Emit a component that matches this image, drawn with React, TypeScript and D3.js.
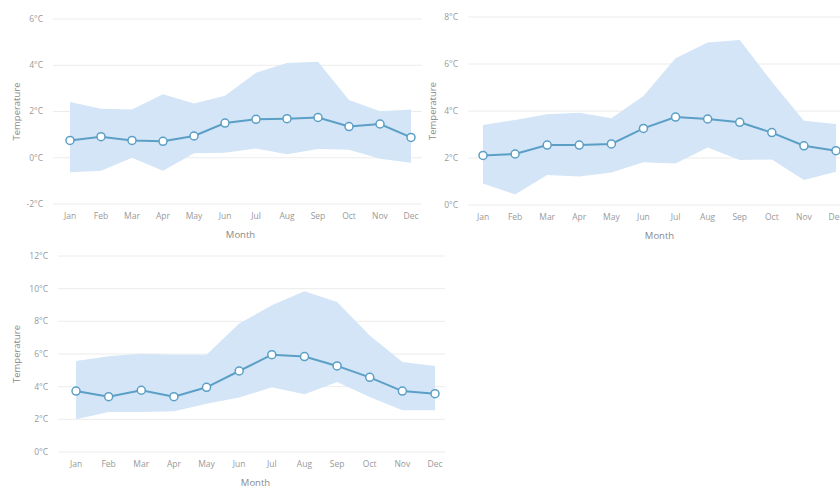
import { useEffect, useRef } from 'react';
import * as d3 from 'd3';

const months = ['Jan', 'Feb', 'Mar', 'Apr', 'May', 'Jun', 'Jul', 'Aug', 'Sep', 'Oct', 'Nov', 'Dec'];

// panel 1 (top left)
const mean1 = [0.75, 0.91, 0.75, 0.71, 0.94, 1.5, 1.66, 1.69, 1.74, 1.35, 1.46, 0.88];
const high1 = [2.41, 2.12, 2.09, 2.75, 2.35, 2.68, 3.68, 4.1, 4.15, 2.5, 2.01, 2.09];
const low1 = [-0.63, -0.56, 0.0, -0.56, 0.2, 0.22, 0.4, 0.15, 0.38, 0.35, -0.04, -0.22];
const ticks1 = [-2, 0, 2, 4, 6];

// panel 2 (top right)
const mean2 = [2.11, 2.17, 2.55, 2.55, 2.6, 3.26, 3.74, 3.66, 3.52, 3.08, 2.52, 2.31];
const high2 = [3.4, 3.62, 3.86, 3.93, 3.69, 4.64, 6.24, 6.92, 7.02, 5.25, 3.59, 3.45];
const low2 = [0.92, 0.45, 1.28, 1.21, 1.38, 1.82, 1.77, 2.45, 1.91, 1.94, 1.06, 1.42];
const ticks2 = [0, 2, 4, 6, 8];

// panel 3 (bottom)
const mean3 = [3.73, 3.39, 3.78, 3.39, 3.96, 4.96, 5.96, 5.84, 5.27, 4.57, 3.73, 3.57];
const high3 = [5.57, 5.86, 6.02, 5.96, 5.96, 7.86, 8.98, 9.84, 9.18, 7.14, 5.51, 5.27];
const low3 = [2.0, 2.45, 2.45, 2.49, 2.96, 3.33, 3.96, 3.53, 4.29, 3.37, 2.55, 2.55];
const ticks3 = [0, 2, 4, 6, 8, 10, 12];

const FONT = '"Open Sans", sans-serif';
const LINE = '#5b9fc6';
const BAND = '#d3e5f6';

type Panel = {
  mean: number[]; high: number[]; low: number[]; ticks: number[];
  gridX: [number, number]; pointX: [number, number]; y: [number, number];
  titleX: number;
};

const panels: Panel[] = [
  { mean: mean1, high: high1, low: low1, ticks: ticks1, gridX: [53, 422], pointX: [70, 411], y: [204, 19], titleX: 17 },
  { mean: mean2, high: high2, low: low2, ticks: ticks2, gridX: [468, 840], pointX: [483, 836], y: [205, 17], titleX: 433 },
  { mean: mean3, high: high3, low: low3, ticks: ticks3, gridX: [58, 445], pointX: [76, 435], y: [452, 256], titleX: 17 },
];

export default function App() {
  const svgRef = useRef<SVGSVGElement>(null);

  useEffect(() => {
    if (!svgRef.current) return;
    const svg = d3.select(svgRef.current);
    svg.selectAll('*').remove();

    panels.forEach((p) => {
      const g = svg.append('g');
      const x = d3.scalePoint<string>().domain(months).range(p.pointX);
      const y = d3.scaleLinear()
        .domain([p.ticks[0], p.ticks[p.ticks.length - 1]])
        .range(p.y);

      // gridlines + y labels
      p.ticks.forEach((t) => {
        g.append('line')
          .attr('x1', p.gridX[0]).attr('x2', p.gridX[1])
          .attr('y1', y(t)).attr('y2', y(t))
          .attr('stroke', '#ececec').attr('stroke-width', 1);
        g.append('text')
          .attr('x', p.gridX[0] - 10).attr('y', y(t))
          .attr('dy', '0.35em')
          .attr('text-anchor', 'end')
          .attr('fill', '#999')
          .attr('font-size', '8.5px')
          .attr('font-family', FONT)
          .text(`${t}°C`);
      });

      // range band
      const area = d3.area<number>()
        .x((_, i) => x(months[i])!)
        .y0((_, i) => y(p.low[i]))
        .y1((_, i) => y(p.high[i]));
      g.append('path')
        .datum(p.mean)
        .attr('d', area)
        .attr('fill', BAND);

      // mean line
      const line = d3.line<number>()
        .x((_, i) => x(months[i])!)
        .y((d) => y(d));
      g.append('path')
        .datum(p.mean)
        .attr('d', line)
        .attr('fill', 'none')
        .attr('stroke', LINE)
        .attr('stroke-width', 2);

      g.selectAll('circle.pt')
        .data(p.mean)
        .join('circle')
        .attr('class', 'pt')
        .attr('cx', (_, i) => x(months[i])!)
        .attr('cy', (d) => y(d))
        .attr('r', 4)
        .attr('fill', '#fff')
        .attr('stroke', LINE)
        .attr('stroke-width', 1.5);

      // x labels
      const base = y(p.ticks[0]);
      months.forEach((m) => {
        g.append('text')
          .attr('x', x(m)!).attr('y', base + 12)
          .attr('dy', '0.35em')
          .attr('text-anchor', 'middle')
          .attr('fill', '#999')
          .attr('font-size', '8.5px')
          .attr('font-family', FONT)
          .text(m);
      });

      // axis titles
      g.append('text')
        .attr('x', (p.pointX[0] + p.pointX[1]) / 2)
        .attr('y', base + 31)
        .attr('dy', '0.35em')
        .attr('text-anchor', 'middle')
        .attr('fill', '#8a8a8a')
        .attr('font-size', '9.5px')
        .attr('font-family', FONT)
        .text('Month');

      g.append('text')
        .attr('transform', `translate(${p.titleX},${(p.y[0] + p.y[1]) / 2}) rotate(-90)`)
        .attr('dy', '0.35em')
        .attr('text-anchor', 'middle')
        .attr('fill', '#8a8a8a')
        .attr('font-size', '9.5px')
        .attr('font-family', FONT)
        .text('Temperature');
    });
  }, []);

  return (
    <svg ref={svgRef} width={840} height={489}
      style={{ position: 'absolute', left: 0, top: 0, background: '#fff' }} />
  );
}
